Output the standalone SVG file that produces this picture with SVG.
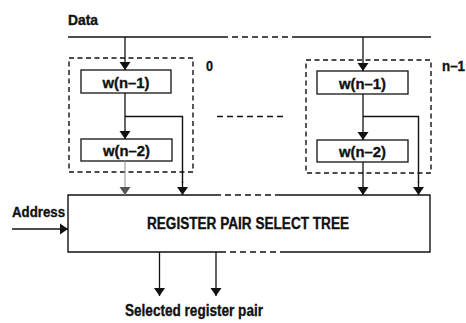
<svg xmlns="http://www.w3.org/2000/svg" width="466" height="323" viewBox="0 0 466 323">
<defs>
<style>
.t{font-family:"Liberation Sans Narrow","Liberation Sans",Arial,sans-serif;font-weight:bold;fill:#111;stroke:#111;stroke-width:0.35;}
.ln{stroke:#111;stroke-width:1.4;fill:none;}
.dash{stroke:#111;stroke-width:1.4;fill:none;stroke-dasharray:6 4;}
.grp{stroke:#111;stroke-width:1.4;fill:none;stroke-dasharray:5 3.5;}
.box{stroke:#111;stroke-width:1.3;fill:#fff;}
.arr{stroke:#111;stroke-width:1.3;fill:none;marker-end:url(#ah);}
.arrg{stroke:#999;stroke-width:1.1;fill:none;marker-end:url(#ahg);}
</style>
<marker id="ah" viewBox="0 0 8 12" refX="8" refY="6" markerWidth="8" markerHeight="12" markerUnits="userSpaceOnUse" orient="auto">
<path d="M0,0.5 L8,6 L0,11.5 Z" fill="#111"/>
</marker>
<marker id="ahg" viewBox="0 0 8 12" refX="8" refY="6" markerWidth="8" markerHeight="12" markerUnits="userSpaceOnUse" orient="auto">
<path d="M0,0.5 L8,6 L0,11.5 Z" fill="#555"/>
</marker>
</defs>
<rect width="466" height="323" fill="#fff"/>

<g id="data-bus">
<text class="t" x="68" y="25" font-size="14.5" textLength="30" lengthAdjust="spacingAndGlyphs">Data</text>
<path class="ln" d="M68,37 H222 M293,37 H431"/>
<path class="dash" d="M222,37 H293"/>
</g>

<g id="group-0">
<rect class="grp" x="69" y="58" width="124" height="114"/>
<text class="t" x="206" y="71" font-size="14.5" textLength="7" lengthAdjust="spacingAndGlyphs">0</text>
</g>

<g id="group-n1">
<rect class="grp" x="306" y="60" width="125" height="113"/>
<text class="t" x="442" y="71" font-size="14.5" textLength="23" lengthAdjust="spacingAndGlyphs">n–1</text>
</g>

<g id="ellipsis">
<path class="dash" d="M217,116.5 H283"/>
</g>

<g id="w0-n1">
<rect class="box" x="81" y="70" width="90" height="23"/>
<text class="t" x="126" y="87.5" font-size="15" text-anchor="middle" textLength="47" lengthAdjust="spacingAndGlyphs">w(n–1)</text>
</g>
<g id="w0-n2">
<rect class="box" x="81" y="139" width="91" height="22"/>
<text class="t" x="126.5" y="156" font-size="15" text-anchor="middle" textLength="47" lengthAdjust="spacingAndGlyphs">w(n–2)</text>
</g>
<g id="w1-n1">
<rect class="box" x="317" y="71" width="91" height="23"/>
<text class="t" x="362.5" y="88.5" font-size="15" text-anchor="middle" textLength="47" lengthAdjust="spacingAndGlyphs">w(n–1)</text>
</g>
<g id="w1-n2">
<rect class="box" x="317" y="140" width="91" height="22"/>
<text class="t" x="362.5" y="157" font-size="15" text-anchor="middle" textLength="47" lengthAdjust="spacingAndGlyphs">w(n–2)</text>
</g>

<g id="register-tree">
<rect x="68" y="195" width="362" height="57" fill="#fff" stroke="none"/>
<path class="ln" d="M215,195 H68 V252 H220 M280,252 H430 V195 H280"/>
<path class="dash" d="M215,195 H280 M220,252 H280"/>
<text class="t" x="147" y="228.5" font-size="16" textLength="202" lengthAdjust="spacingAndGlyphs">REGISTER PAIR SELECT TREE</text>
</g>

<g id="address">
<text class="t" x="12" y="217" font-size="14.5" textLength="53" lengthAdjust="spacingAndGlyphs">Address</text>
</g>

<g id="output">
<text class="t" x="125" y="315.5" font-size="16.5" textLength="138" lengthAdjust="spacingAndGlyphs">Selected register pair</text>
</g>

<g id="connectors">
<path class="arr" d="M125,37 V70"/>
<path class="arr" d="M125,93 V139"/>
<path class="ln" d="M125,116.5 H182.5 V183"/>
<path class="arr" d="M182.5,182 V195"/>
<path class="arrg" d="M125,161 V195"/>
<path class="arr" d="M363,37 V71"/>
<path class="arr" d="M363,94 V140"/>
<path class="ln" d="M363,116.5 H418.5 V183"/>
<path class="arr" d="M418.5,182 V195"/>
<path class="arr" d="M363,162 V195"/>
<path class="arr" d="M12,229 H68"/>
<path class="arr" d="M159.5,252 V296"/>
<path class="arr" d="M216,252 V296"/>
</g>
</svg>
